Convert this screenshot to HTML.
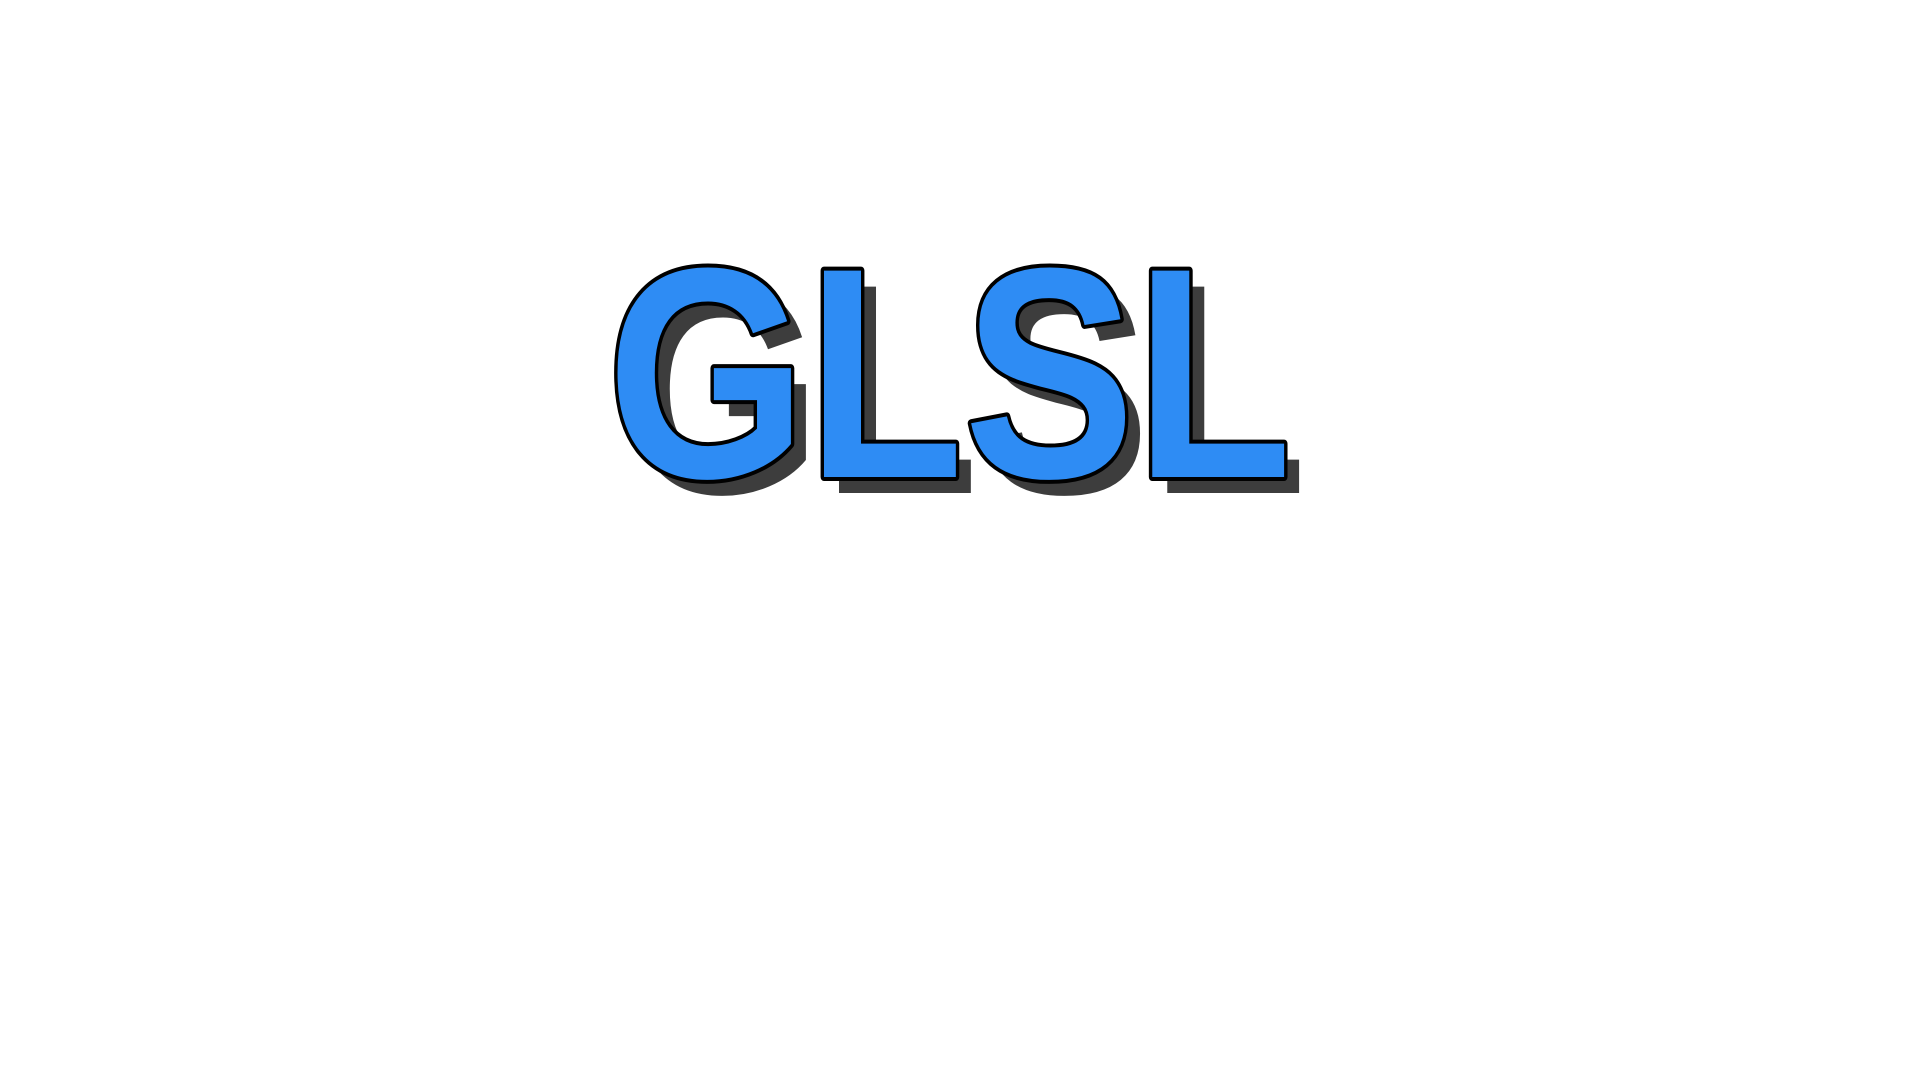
<!DOCTYPE html>
<html>
<head>
<meta charset="utf-8">
<style>
  html, body { margin: 0; padding: 0; background: #ffffff; }
  body { width: 1920px; height: 1080px; overflow: hidden; }
  svg { display: block; }
</style>
</head>
<body>
<svg width="1920" height="1080" viewBox="0 0 1920 1080">
  <text x="622" y="493" textLength="685" lengthAdjust="spacingAndGlyphs"
        font-family="Liberation Sans, sans-serif" font-weight="bold" font-size="300"
        fill="#3d3d3d">GLSL</text>
  <text x="607" y="477" textLength="685" lengthAdjust="spacingAndGlyphs"
        font-family="Liberation Sans, sans-serif" font-weight="bold" font-size="300"
        fill="#2e8cf4" stroke="#000000" stroke-width="8" stroke-linejoin="round"
        paint-order="stroke">GLSL</text>
</svg>
</body>
</html>
